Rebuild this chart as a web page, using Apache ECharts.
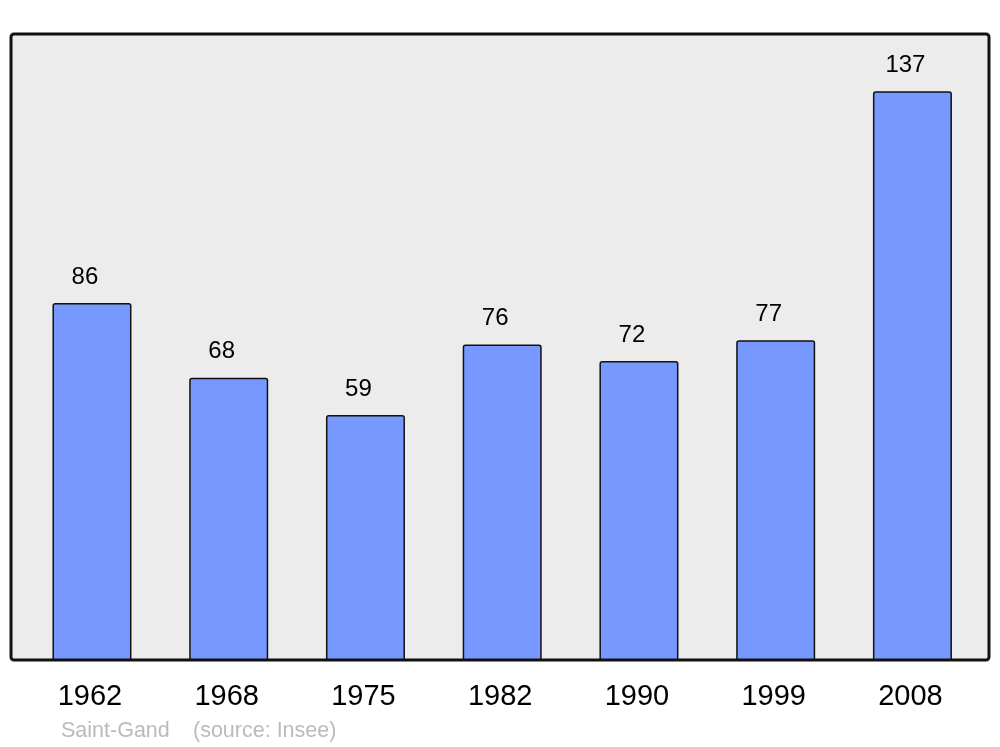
<!DOCTYPE html>
<html>
<head>
<meta charset="utf-8">
<script src="https://cdn.jsdelivr.net/npm/echarts@6/dist/echarts.min.js"></script>
<style>
  html, body { margin: 0; padding: 0; background: #fff; }
  #chart { width: 1000px; height: 747px; }
</style>
</head>
<body>
<div id="chart"></div>
<script>
  // population by census year
  const years = ['1962', '1968', '1975', '1982', '1990', '1999', '2008']
  const population = [86, 68, 59, 76, 72, 77, 137]
  const footerPlace = 'Saint-Gand'
  const footerSource = '(source: Insee)'

  const chart = echarts.init(document.getElementById('chart'))
  chart.setOption({
    animation: false,
    textStyle: { fontFamily: 'Liberation Sans, Arial, sans-serif' },
    grid: {
      left: 23.6,
      right: 19.2,
      top: 33,
      bottom: 87
    },
    graphic: [
      {
        type: 'rect',
        z: -10,
        shape: { x: 11, y: 34, width: 978, height: 626, r: 3 },
        style: { fill: '#ececec', stroke: '#111', lineWidth: 3 }
      },
      {
        type: 'text',
        left: 61,
        top: 720,
        style: { text: footerPlace, fill: '#bbbbbb', fontSize: 21.5, fontFamily: 'Liberation Sans' }
      },
      {
        type: 'text',
        left: 193,
        top: 720,
        style: { text: footerSource, fill: '#bbbbbb', fontSize: 21.5, fontFamily: 'Liberation Sans' }
      }
    ],
    xAxis: {
      type: 'category',
      data: years,
      axisLine: { show: false },
      axisTick: { show: false },
      axisLabel: { color: '#000', fontSize: 29, margin: 22, padding: [0, 4, 0, 0] }
    },
    yAxis: {
      type: 'value',
      min: 0,
      max: 151,
      show: false,
      splitLine: { show: false }
    },
    series: [
      {
        type: 'bar',
        data: population,
        barWidth: 79,
        itemStyle: {
          color: '#7799ff',
          borderColor: '#111',
          borderWidth: 1.5,
          borderRadius: [2, 2, 0, 0]
        },
        label: {
          show: true,
          position: 'top',
          distance: 14,
          offset: [-7, 0],
          color: '#000',
          fontSize: 24
        }
      }
    ]
  })
</script>
</body>
</html>
